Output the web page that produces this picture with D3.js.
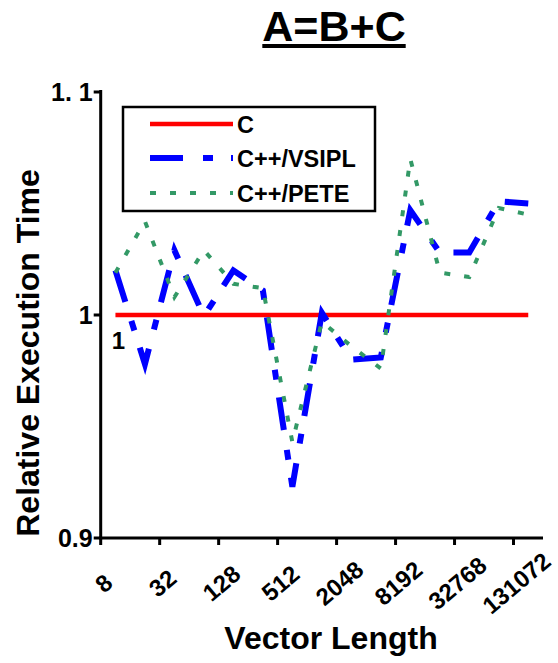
<!DOCTYPE html>
<html>
<head>
<meta charset="utf-8">
<script src="https://cdn.jsdelivr.net/npm/d3@7"></script>
<style>
  html, body { margin: 0; padding: 0; background: #fff; }
  svg { display: block; font-family: "Liberation Sans", Arial, sans-serif; font-weight: bold; }
</style>
</head>
<body>
<svg id="chart" width="558" height="663"></svg>
<script>
// Vector lengths (powers of two) on the category axis
const categories = ["8","16","32","64","128","256","512","1024","2048","4096","8192","16384","32768","65536","131072"];
const tickLabels = ["8","32","128","512","2048","8192","32768","131072"];
const yTicks = [0.9, 1, 1.1];
const yTickLabels = ["0.9", "1", "1. 1"];

// Execution time relative to plain C
const cValues     = [1, 1, 1, 1, 1, 1, 1, 1, 1, 1, 1, 1, 1, 1, 1];
const vsiplValues = [1.020, 0.978, 1.029, 0.9995, 1.020, 1.011, 0.923, 1.001, 0.980, 0.981, 1.047, 1.028, 1.028, 1.051, 1.050];
const peteValues  = [1.019, 1.042, 1.008, 1.029, 1.014, 1.012, 0.943, 0.997, 0.986, 0.976, 1.070, 1.019, 1.017, 1.048, 1.045];

const seriesNames = ["C", "C++/VSIPL", "C++/PETE"];

const svg = d3.select("#chart");
const plot = { left: 100.7, right: 543, top: 92, bottom: 538 };

const x = d3.scaleBand().domain(categories).range([plot.left, plot.right]).padding(0);
const y = d3.scaleLinear().domain([0.9, 1.1]).range([plot.bottom, plot.top]);
const cx = c => x(c) + x.bandwidth() / 2;

const styles = [
  { color: "#ff0000", width: 4.5, dash: null },
  { color: "#0000ff", width: 6, dash: "33,20,10,18" },
  { color: "#339966", width: 4, dash: "6,14" }
];

// Series lines
const line = d3.line().x((d, i) => cx(categories[i])).y(d => y(d));
[cValues, vsiplValues, peteValues].forEach((vals, k) => {
  svg.append("path")
    .datum(vals)
    .attr("d", line)
    .attr("fill", "none")
    .attr("stroke", styles[k].color)
    .attr("stroke-width", styles[k].width)
    .attr("stroke-dasharray", styles[k].dash)
    .attr("stroke-linejoin", "miter")
    .attr("stroke-linecap", "butt");
});

// Value label on the first C point
svg.append("text")
  .attr("x", cx(categories[0]) + 3)
  .attr("y", y(cValues[0]) + 34)
  .attr("text-anchor", "middle")
  .attr("font-size", 24)
  .text(cValues[0]);

// Y axis
svg.append("line")
  .attr("x1", plot.left).attr("x2", plot.left)
  .attr("y1", plot.top - 2).attr("y2", plot.bottom + 1.5)
  .attr("stroke", "#000").attr("stroke-width", 3);
yTicks.forEach((t, i) => {
  svg.append("line")
    .attr("x1", plot.left - 7).attr("x2", plot.left)
    .attr("y1", y(t)).attr("y2", y(t))
    .attr("stroke", "#000").attr("stroke-width", 3);
  svg.append("text")
    .attr("x", plot.left - 8)
    .attr("y", y(t))
    .attr("dy", "0.36em")
    .attr("text-anchor", "end")
    .attr("font-size", 25)
    .text(yTickLabels[i]);
});

// X axis
svg.append("line")
  .attr("x1", plot.left - 1.5).attr("x2", plot.right)
  .attr("y1", plot.bottom).attr("y2", plot.bottom)
  .attr("stroke", "#000").attr("stroke-width", 3);
categories.forEach((c, i) => {
  if (i % 2 !== 0) return;
  svg.append("line")
    .attr("x1", x(c)).attr("x2", x(c))
    .attr("y1", plot.bottom).attr("y2", plot.bottom + 7)
    .attr("stroke", "#000").attr("stroke-width", 3);
});
tickLabels.forEach(lbl => {
  svg.append("text")
    .attr("transform", `translate(${cx(lbl) - 12},583) rotate(-40)`)
    .attr("text-anchor", "middle")
    .attr("dy", "0.36em")
    .attr("font-size", 24)
    .text(lbl);
});

// Axis titles
svg.append("text")
  .attr("x", 331).attr("y", 649)
  .attr("text-anchor", "middle")
  .attr("font-size", 32)
  .text("Vector Length");
svg.append("text")
  .attr("transform", "translate(39,353) rotate(-90)")
  .attr("text-anchor", "middle")
  .attr("font-size", 32)
  .text("Relative Execution Time");

// Title with underline
const title = svg.append("text")
  .attr("x", 334).attr("y", 41)
  .attr("text-anchor", "middle")
  .attr("font-size", 43)
  .text("A=B+C");
const tw = title.node().getComputedTextLength();
svg.append("rect")
  .attr("x", 334 - tw / 2).attr("y", 44)
  .attr("width", tw).attr("height", 4)
  .attr("fill", "#000");

// Legend
const legend = svg.append("g");
legend.append("rect")
  .attr("x", 123).attr("y", 107)
  .attr("width", 252).attr("height", 104)
  .attr("fill", "#fff").attr("stroke", "#000").attr("stroke-width", 2.5);
const legendY = [124, 158, 193];
seriesNames.forEach((name, k) => {
  legend.append("line")
    .attr("x1", 150).attr("x2", 233)
    .attr("y1", legendY[k]).attr("y2", legendY[k])
    .attr("stroke", styles[k].color)
    .attr("stroke-width", styles[k].width)
    .attr("stroke-dasharray", styles[k].dash);
  legend.append("text")
    .attr("x", 237).attr("y", legendY[k])
    .attr("dy", "0.37em")
    .attr("font-size", 23.5)
    .text(name);
});
</script>
</body>
</html>
